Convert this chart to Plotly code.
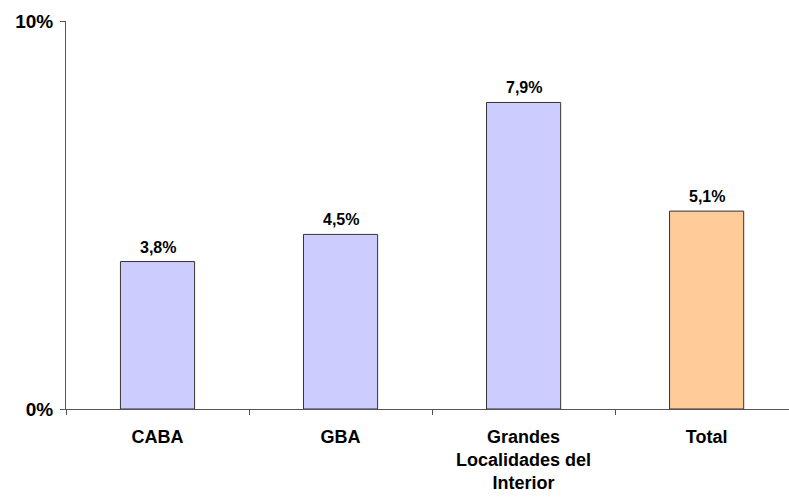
import plotly.graph_objects as go

categories = ["CABA", "GBA", "Grandes<br>Localidades del<br>Interior", "Total"]
values = [3.8, 4.5, 7.9, 5.1]
bar_colors = ["#CCCCFF", "#CCCCFF", "#CCCCFF", "#FFCC99"]
y_tick_vals = [0, 10]
y_tick_text = ["0%", "10%"]

labels = [f"{v:.1f}%".replace(".", ",") for v in values]

font_family = "Liberation Sans, Arial, sans-serif"

fig = go.Figure(
    go.Bar(
        x=categories,
        y=values,
        marker=dict(color=bar_colors, line=dict(color="#333333", width=1)),
        hoverinfo="skip",
    )
)

for cat, v, lab in zip(categories, values, labels):
    fig.add_annotation(
        x=cat, y=v, text=lab, showarrow=False,
        yanchor="bottom", yshift=4,
        font=dict(family=font_family, size=16, color="#000000", weight="bold"),
    )

fig.update_layout(
    width=789,
    height=498,
    margin=dict(l=66, r=0, t=21, b=89),
    paper_bgcolor="white",
    plot_bgcolor="white",
    bargap=0.595,
    showlegend=False,
    font=dict(family=font_family, color="#000000"),
)

fig.update_xaxes(
    range=[-0.5, 3.45],
    automargin=False,
    showline=True,
    linecolor="#555555",
    linewidth=1,
    ticks="outside",
    tickson="boundaries",
    ticklen=5,
    tickcolor="#555555",
    ticklabelstandoff=11,
    showgrid=False,
    tickfont=dict(family=font_family, size=18, color="#000000", weight="bold"),
)

fig.update_yaxes(
    range=[0, 10],
    automargin=False,
    tickvals=y_tick_vals,
    ticktext=y_tick_text,
    showline=True,
    linecolor="#555555",
    linewidth=1,
    ticks="outside",
    ticklen=5,
    tickcolor="#555555",
    ticklabelstandoff=3,
    showgrid=False,
    zeroline=False,
    tickfont=dict(family=font_family, size=19, color="#000000", weight="bold"),
)

fig.write_html(
    "out.html",
    config={"displayModeBar": False, "staticPlot": True},
    post_script="document.body.style.margin='0';document.body.style.overflow='hidden';",
)
